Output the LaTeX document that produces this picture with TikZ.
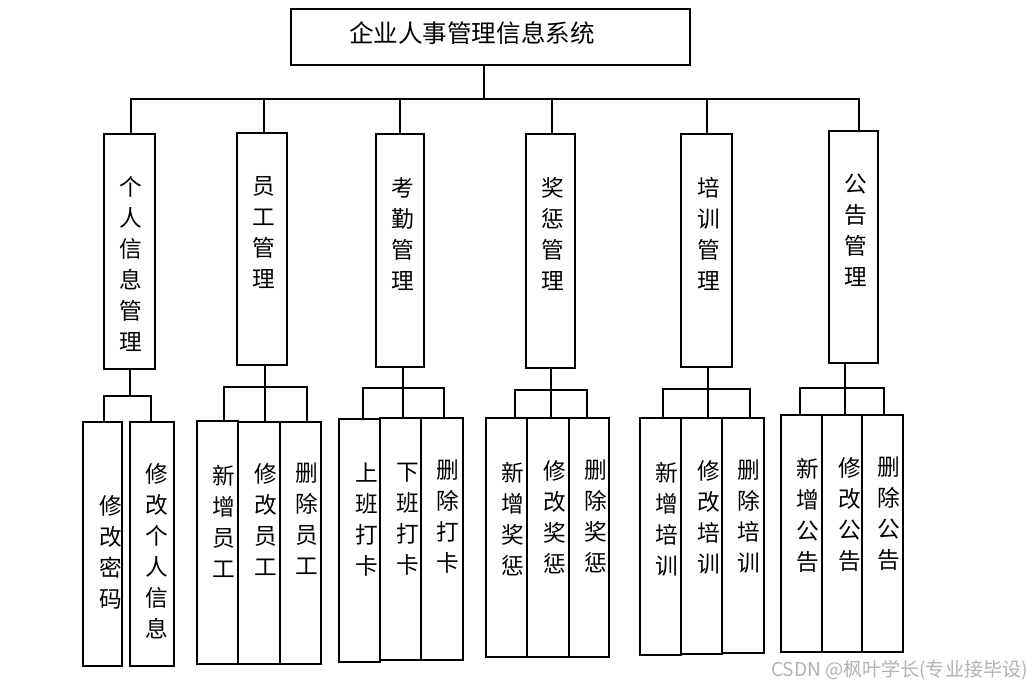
\documentclass[tikz,border=0pt]{standalone}
\usepackage{fontspec}
\newfontfamily\cjk{Noto Sans CJK SC}
\tikzset{
  box/.style={draw=black, line width=1.5pt, rectangle, inner sep=0pt, outer sep=0pt},
  vtext/.style={font=\cjk\fontsize{17}{23.25}\selectfont, align=center, inner sep=0pt, anchor=north},
  ttext/.style={font=\cjk\fontsize{18.4}{22}\selectfont, inner sep=0pt, anchor=west},
  wm/.style={font=\cjk\fontsize{14.3}{16}\selectfont, text=black!30, inner sep=0pt, anchor=east},
  conn/.style={line width=1.5pt, line cap=rect}
}
\newcommand{\bx}[5]{\node[box, minimum width={(#4-#2)*0.75pt}, minimum height={(#5-#3)*0.75pt}] (#1) at ({(#2+#4)/2},{(#3+#5)/2}) {};}
\newcommand{\vt}[4]{\node[vtext] (#1) at (#2,#3) {#4};}
\begin{document}
\begin{tikzpicture}[x=0.75pt,y=-0.75pt]
\useasboundingbox (0,0) rectangle (1032,689);
% top
\bx{top}{291}{9}{690}{65}
\node[ttext] (title) at (349,33) {企业人事管理信息系统};
% level 1
\bx{p1}{104}{134}{155}{369}
\bx{p2}{237}{133}{287}{365}
\bx{p3}{376}{134}{424}{367}
\bx{p4}{526}{134}{575}{368}
\bx{p5}{681}{134}{732}{367}
\bx{p6}{829}{131}{878}{363}
\vt{t1}{131}{176}{个\\人\\信\\息\\管\\理}
\vt{t2}{264}{176}{员\\工\\管\\理}
\vt{t3}{403}{177}{考\\勤\\管\\理}
\vt{t4}{553}{177}{奖\\惩\\管\\理}
\vt{t5}{709}{177}{培\\训\\管\\理}
\vt{t6}{856}{174}{公\\告\\管\\理}
% bus
\coordinate (bus0) at (484,99);
\coordinate (bus1) at (131,99);
\coordinate (bus2) at (264,99);
\coordinate (bus3) at (400,99);
\coordinate (bus4) at (551.7,99);
\coordinate (bus5) at (706.7,99);
\coordinate (bus6) at (859,99);
\draw[conn] (bus0 |- top.south) -- (bus0);
\draw[conn] (bus1) -- (bus6);
\foreach \i in {1,...,6} {\draw[conn] (bus\i) -- (bus\i |- p\i.north);}
% children
\bx{c11}{83}{422}{122}{666}
\bx{c12}{130}{422}{174}{666}
\vt{u11}{111}{495}{修\\改\\密\\码}
\vt{u12}{157}{463}{修\\改\\个\\人\\信\\息}
\bx{c21}{197}{421}{238}{664}
\bx{c22}{238}{422}{280}{664}
\bx{c23}{280}{422}{321}{664}
\vt{u21}{224}{465}{新\\增\\员\\工}
\vt{u22}{265.5}{463}{修\\改\\员\\工}
\vt{u23}{307}{463}{删\\除\\员\\工}
\bx{c31}{339}{419}{380}{662}
\bx{c32}{380}{418}{421}{660}
\bx{c33}{421}{418}{463}{660}
\vt{u31}{366.7}{463}{上\\班\\打\\卡}
\vt{u32}{408}{463}{下\\班\\打\\卡}
\vt{u33}{448}{460}{删\\除\\打\\卡}
\bx{c41}{486}{418}{527}{657}
\bx{c42}{527}{418}{569}{657}
\bx{c43}{569}{418}{609}{657}
\vt{u41}{513}{462}{新\\增\\奖\\惩}
\vt{u42}{554.5}{460}{修\\改\\奖\\惩}
\vt{u43}{595.7}{460}{删\\除\\奖\\惩}
\bx{c51}{640}{418}{681}{655}
\bx{c52}{681}{418}{722}{654}
\bx{c53}{722}{418}{764}{653}
\vt{u51}{667}{462}{新\\增\\培\\训}
\vt{u52}{708.5}{460}{修\\改\\培\\训}
\vt{u53}{749}{460}{删\\除\\培\\训}
\bx{c61}{781}{415}{822}{652}
\bx{c62}{822}{415}{862}{652}
\bx{c63}{862}{415}{903}{652}
\vt{u61}{808}{458}{新\\增\\公\\告}
\vt{u62}{850}{457}{修\\改\\公\\告}
\vt{u63}{889}{457}{删\\除\\公\\告}
% group connectors
\coordinate (j1) at (130,396); \coordinate (l1) at (104,396); \coordinate (r1) at (150.7,396);
\coordinate (j2) at (264.7,387); \coordinate (l2) at (224,387); \coordinate (r2) at (307,387);
\coordinate (j3) at (403,388); \coordinate (l3) at (363,388); \coordinate (r3) at (444,388);
\coordinate (j4) at (551,390); \coordinate (l4) at (515,390); \coordinate (r4) at (587,390);
\coordinate (j5) at (708,389); \coordinate (l5) at (663,389); \coordinate (r5) at (750,389);
\coordinate (j6) at (845,388); \coordinate (l6) at (800,388); \coordinate (r6) at (884,388);
\draw[conn] (j1 |- p1.south) -- (j1);
\draw[conn] (l1) -- (r1);
\draw[conn] (l1) -- (l1 |- c11.north);
\draw[conn] (r1) -- (r1 |- c12.north);
\foreach \g in {2,...,6} {
  \draw[conn] (j\g |- p\g.south) -- (j\g |- c\g2.north);
  \draw[conn] (l\g) -- (r\g);
  \draw[conn] (l\g) -- (l\g |- c\g1.north);
  \draw[conn] (r\g) -- (r\g |- c\g3.north);
}
\node[wm] (mark) at (1028,670) {CSDN @枫叶学长(专业接毕设)};
\end{tikzpicture}
\end{document}
